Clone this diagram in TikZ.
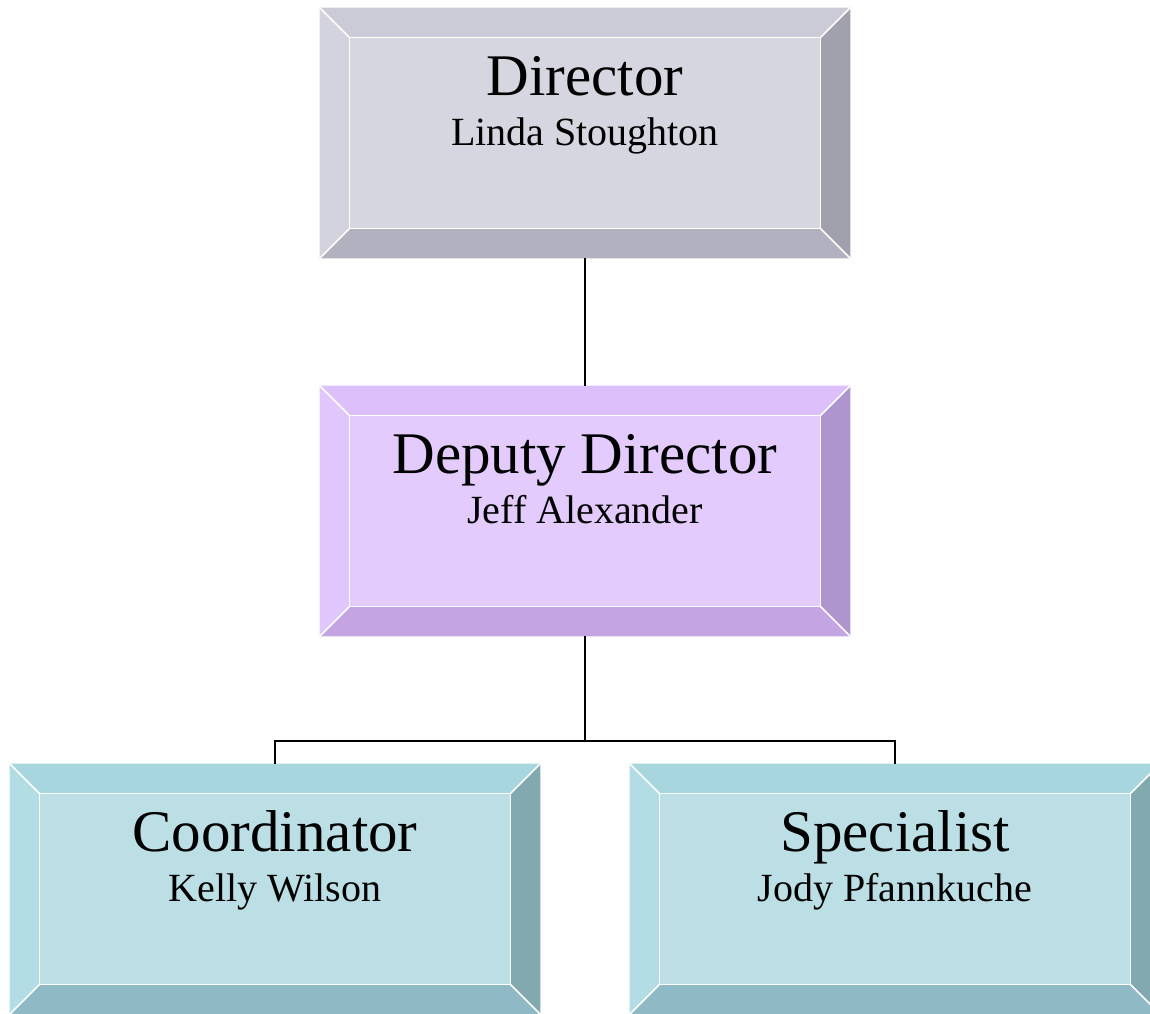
\documentclass[tikz,border=0pt]{standalone}
\usepackage{xcolor}
\usepackage{fontspec}
\setmainfont{Liberation Serif}
\usepackage{tikz}
\usetikzlibrary{calc}

\definecolor{dirtop}{HTML}{CBCBD8}
\definecolor{dirleft}{HTML}{D3D3DF}
\definecolor{dirmid}{HTML}{D6D6E1}
\definecolor{dirright}{HTML}{A1A1AD}
\definecolor{dirbottom}{HTML}{B1B1BF}
\definecolor{deptop}{HTML}{DDBFFB}
\definecolor{depleft}{HTML}{E0C6FC}
\definecolor{depmid}{HTML}{E3CCFD}
\definecolor{depright}{HTML}{AF95CD}
\definecolor{depbottom}{HTML}{C5A4E4}
\definecolor{stafftop}{HTML}{A8D6DF}
\definecolor{staffleft}{HTML}{B3DDE4}
\definecolor{staffmid}{HTML}{BCDFE6}
\definecolor{staffright}{HTML}{82A8B0}
\definecolor{staffbottom}{HTML}{8FBAC5}

\tikzset{
  orgbox/.style={rectangle, draw=none, inner sep=0pt, minimum width=265pt, minimum height=125pt},
  roletext/.style={anchor=base, inner sep=0.75pt, font=\fontsize{29.5}{35}\selectfont},
  nametext/.style={anchor=base, inner sep=0.75pt, font=\fontsize{20}{24}\selectfont},
  link/.style={line width=0.75pt, black}
}

% bevelled frame round a box node: node, top, left, right, bottom colours
\newcommand{\bevelbox}[5]{%
  \fill[#2] (#1.north west) -- (#1.north east) -- ($(#1.north east)+(-30,30)$) -- ($(#1.north west)+(30,30)$) -- cycle ;
  \fill[#3] (#1.north west) -- ($(#1.north west)+(30,30)$) -- ($(#1.south west)+(30,-30)$) -- (#1.south west) -- cycle ;
  \fill[#4] (#1.north east) -- ($(#1.north east)+(-30,30)$) -- ($(#1.south east)+(-30,-30)$) -- (#1.south east) -- cycle ;
  \fill[#5] (#1.south west) -- ($(#1.south west)+(30,-30)$) -- ($(#1.south east)+(-30,-30)$) -- (#1.south east) -- cycle ;
  \draw[white, line width=0.75pt] ($(#1.north west)+(30,30)$) rectangle ($(#1.south east)+(-30,-30)$) ;
  \draw[white, line width=0.75pt] (#1.north west) -- ($(#1.north west)+(30,30)$) (#1.north east) -- ($(#1.north east)+(-30,30)$) (#1.south west) -- ($(#1.south west)+(30,-30)$) (#1.south east) -- ($(#1.south east)+(-30,-30)$) ;
}

\begin{document}
\begin{tikzpicture}[x=0.5pt,y=0.5pt,yscale=-1,xscale=1]
        \useasboundingbox (0,0) rectangle (1150,1013) ;
        % boxes
        \draw (585,133) node (dir) [orgbox, fill=dirmid] {} ;
        \bevelbox{dir}{dirtop}{dirleft}{dirright}{dirbottom}
        \draw (585,511) node (dep) [orgbox, fill=depmid] {} ;
        \bevelbox{dep}{deptop}{depleft}{depright}{depbottom}
        \draw (275,889) node (coord) [orgbox, fill=staffmid] {} ;
        \bevelbox{coord}{stafftop}{staffleft}{staffright}{staffbottom}
        \draw (895,889) node (spec) [orgbox, fill=staffmid] {} ;
        \bevelbox{spec}{stafftop}{staffleft}{staffright}{staffbottom}

        % lines
        \coordinate (split) at (585,741) ;
        \draw [link] (dir.south) -- (dep.north) ;
        \draw [link] (dep.south) -- (split) ;
        \draw [link] (split) -| (coord.north) ;
        \draw [link] (split) -| (spec.north) ;

        % texts
        \draw (585,95) node (dirrole) [roletext] {Director};
        \draw (585,145) node (dirname) [nametext] {Linda Stoughton};
        \draw (585,473) node (deprole) [roletext] {Deputy Director};
        \draw (585,523) node (depname) [nametext] {Jeff Alexander};
        \draw (275,851) node (coordrole) [roletext] {Coordinator};
        \draw (275,901) node (coordname) [nametext] {Kelly Wilson};
        \draw (895,851) node (specrole) [roletext] {Specialist};
        \draw (895,901) node (specname) [nametext] {Jody Pfannkuche};
\end{tikzpicture}
\end{document}
